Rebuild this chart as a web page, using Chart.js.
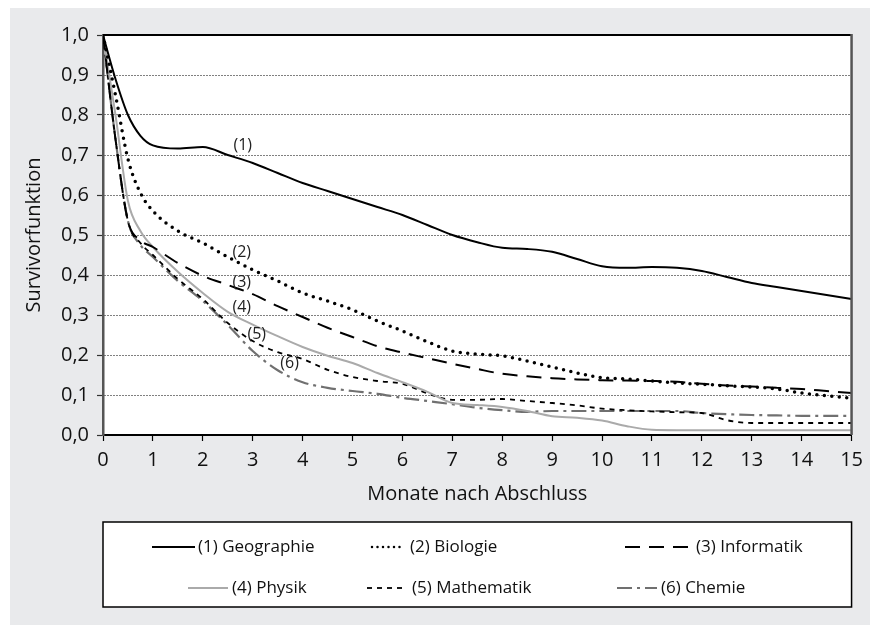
<!DOCTYPE html>
<html>
<head>
<meta charset="utf-8">
<script src="https://cdn.jsdelivr.net/npm/chart.js@4"></script>
<style>
  body { margin: 0; background: #fff; }
  canvas { display: block; }
</style>
</head>
<body>
<canvas id="survivalChart" width="870" height="625"></canvas>
<script>
// months after graduation (x positions shared by all curves)
const months = [0, 0.25, 0.5, 0.75, 1, 1.5, 2, 2.5, 3, 3.5, 4, 4.5, 5, 5.5, 6, 6.5, 7, 7.5,
    8, 8.5, 9, 9.5, 10, 10.5, 11, 11.5, 12, 12.5, 13, 13.5, 14, 14.5, 15];

const geographie = [1.0, 0.89, 0.80, 0.748, 0.724, 0.716, 0.72, 0.70, 0.68, 0.655, 0.63, 0.61, 0.59, 0.57,
    0.55, 0.525, 0.50, 0.482, 0.468, 0.465, 0.458, 0.44, 0.422, 0.418, 0.42, 0.418, 0.41, 0.395, 0.38,
    0.37, 0.36, 0.35, 0.34];
const biologie = [1.0, 0.85, 0.69, 0.605, 0.56, 0.51, 0.48, 0.445, 0.413, 0.385, 0.355, 0.335, 0.313, 0.285,
    0.26, 0.233, 0.21, 0.202, 0.198, 0.185, 0.17, 0.155, 0.143, 0.14, 0.135, 0.13, 0.127, 0.123, 0.12,
    0.115, 0.105, 0.098, 0.092];
const informatik = [1.0, 0.74, 0.535, 0.487, 0.47, 0.43, 0.398, 0.375, 0.352, 0.322, 0.295, 0.268, 0.245,
    0.222, 0.206, 0.192, 0.178, 0.165, 0.153, 0.147, 0.142, 0.139, 0.137, 0.136, 0.135, 0.133, 0.128,
    0.124, 0.121, 0.118, 0.115, 0.11, 0.105];
const physik = [1.0, 0.80, 0.585, 0.51, 0.47, 0.408, 0.355, 0.308, 0.276, 0.247, 0.22, 0.198, 0.18, 0.155,
    0.132, 0.108, 0.08, 0.075, 0.07, 0.06, 0.047, 0.043, 0.036, 0.022, 0.013, 0.012, 0.012, 0.012, 0.012,
    0.012, 0.012, 0.012, 0.012];
const mathematik = [1.0, 0.74, 0.535, 0.48, 0.45, 0.39, 0.34, 0.28, 0.235, 0.207, 0.19, 0.163, 0.145, 0.135,
    0.128, 0.104, 0.088, 0.088, 0.09, 0.085, 0.08, 0.074, 0.066, 0.062, 0.059, 0.057, 0.055, 0.037, 0.03,
    0.03, 0.03, 0.03, 0.03];
const chemie = [1.0, 0.74, 0.535, 0.475, 0.445, 0.385, 0.335, 0.275, 0.21, 0.162, 0.132, 0.118, 0.11, 0.103,
    0.093, 0.085, 0.077, 0.068, 0.062, 0.058, 0.06, 0.06, 0.06, 0.06, 0.06, 0.06, 0.055, 0.052, 0.05,
    0.049, 0.048, 0.048, 0.048];

const seriesNames = ['(1) Geographie', '(2) Biologie', '(3) Informatik', '(4) Physik', '(5) Mathematik', '(6) Chemie'];

// where the "(n)" tags sit next to the curves
const tagMonths = [2.8, 2.78, 2.78, 2.78, 3.08, 3.74];
const tagLevels = [0.725, 0.457, 0.382, 0.32, 0.252, 0.18];

const FONT = '"Open Sans", "DejaVu Sans", sans-serif';

function toPoints(values) {
    return months.map((m, i) => ({ x: m, y: values[i] }));
}

function lineSet(label, values, color, width, dash, cap) {
    return {
        label: label,
        data: toPoints(values),
        borderColor: color,
        borderWidth: width,
        borderDash: dash,
        borderCapStyle: cap || 'butt',
        pointRadius: 0,
        fill: false,
        cubicInterpolationMode: 'monotone'
    };
}

const datasets = [
    lineSet(seriesNames[0], geographie, '#000', 2, []),
    lineSet(seriesNames[1], biologie, '#000', 3.5, [0, 7.5], 'round'),
    lineSet(seriesNames[2], informatik, '#000', 2, [15, 9]),
    lineSet(seriesNames[3], physik, '#aaaaaa', 2, []),
    lineSet(seriesNames[4], mathematik, '#000', 1.8, [5, 5]),
    lineSet(seriesNames[5], chemie, '#707070', 2.2, [15, 5, 3, 5])
];

// legend slots: sample line from x0 to x1, text from tx
const legendSlots = [
    { x0: 152, x1: 195, tx: 198, y: 547 },
    { x0: 372, x1: 405, tx: 410, y: 547 },
    { x0: 625, x1: 692, tx: 696, y: 547 },
    { x0: 188, x1: 228, tx: 232, y: 588 },
    { x0: 367, x1: 407, tx: 412, y: 588 },
    { x0: 617, x1: 657, tx: 661, y: 588 }
];

const framePlugin = {
    id: 'frame',
    beforeDraw(chart) {
        const { ctx, chartArea: a } = chart;
        ctx.save();
        ctx.fillStyle = '#fff';
        ctx.fillRect(0, 0, chart.width, chart.height);
        ctx.fillStyle = '#e9eaec';
        ctx.fillRect(10, 8, chart.width - 10, chart.height - 8);
        ctx.fillStyle = '#fff';
        ctx.fillRect(a.left, a.top, a.right - a.left, a.bottom - a.top);
        ctx.restore();
    },
    afterDatasetsDraw(chart) {
        const { ctx, scales } = chart;
        ctx.save();
        ctx.font = '16px ' + FONT;
        ctx.fillStyle = '#222';
        ctx.textAlign = 'center';
        ctx.textBaseline = 'middle';
        chart.data.datasets.forEach((ds, i) => {
            const tag = ds.label.split(' ')[0];
            ctx.fillText(tag, scales.x.getPixelForValue(tagMonths[i]), scales.y.getPixelForValue(tagLevels[i]));
        });
        ctx.restore();
    },
    afterDraw(chart) {
        const { ctx, chartArea: a } = chart;
        ctx.save();
        // top and right edge of the plot
        ctx.lineWidth = 2;
        ctx.strokeStyle = '#000';
        ctx.beginPath();
        ctx.moveTo(a.left, a.top);
        ctx.lineTo(a.right, a.top);
        ctx.stroke();
        ctx.lineWidth = 2.5;
        ctx.strokeStyle = '#555';
        ctx.beginPath();
        ctx.moveTo(a.right, a.top - 1);
        ctx.lineTo(a.right, a.bottom);
        ctx.stroke();

        // legend box
        ctx.fillStyle = '#fff';
        ctx.fillRect(a.left, 522, a.right - a.left, 85);
        ctx.lineWidth = 1.5;
        ctx.strokeStyle = '#000';
        ctx.strokeRect(a.left, 522, a.right - a.left, 85);

        ctx.font = '17px ' + FONT;
        ctx.textBaseline = 'middle';
        ctx.textAlign = 'left';
        chart.data.datasets.forEach((ds, i) => {
            const slot = legendSlots[i];
            ctx.save();
            ctx.strokeStyle = ds.borderColor;
            ctx.lineWidth = Math.min(ds.borderWidth, 2.5);
            ctx.lineCap = ds.borderCapStyle;
            ctx.setLineDash(ds.borderDash.length && ds.borderDash[0] === 0 ? [0, 5.5] : ds.borderDash);
            ctx.beginPath();
            ctx.moveTo(slot.x0, slot.y);
            ctx.lineTo(slot.x1, slot.y);
            ctx.stroke();
            ctx.restore();
            ctx.fillStyle = '#111';
            ctx.fillText(ds.label, slot.tx, slot.y);
        });
        ctx.restore();
    }
};

new Chart(document.getElementById('survivalChart'), {
    type: 'line',
    data: { datasets: datasets },
    plugins: [framePlugin],
    options: {
        responsive: false,
        animation: false,
        layout: { padding: { left: 0, top: 35, right: 12, bottom: 115 } },
        plugins: { legend: { display: false }, tooltip: { enabled: false } },
        scales: {
            x: {
                type: 'linear',
                min: 0,
                max: 15,
                afterFit: (scale) => { scale.height = 75; },
                ticks: { stepSize: 1, padding: 7, color: '#111', font: { family: FONT, size: 20 } },
                grid: { drawOnChartArea: false, tickLength: 6, tickColor: '#000', tickWidth: 1.2 },
                border: { color: '#000', width: 2 },
                title: {
                    display: true,
                    text: 'Monate nach Abschluss',
                    color: '#111',
                    font: { family: FONT, size: 20 },
                    padding: { top: 0, bottom: 4 }
                }
            },
            y: {
                min: 0,
                max: 1,
                afterFit: (scale) => { scale.width = 103; },
                ticks: {
                    stepSize: 0.1,
                    padding: 8,
                    color: '#111',
                    font: { family: FONT, size: 20 },
                    callback: (v) => v.toFixed(1).replace('.', ',')
                },
                grid: { color: '#000', lineWidth: 1, tickLength: 6, tickColor: '#333', tickWidth: 1.2 },
                border: { color: '#555', width: 2.5, dash: [1, 2] },
                title: {
                    display: true,
                    text: 'Survivorfunktion',
                    color: '#111',
                    font: { family: FONT, size: 20 },
                    padding: { top: 22, bottom: 0 }
                }
            }
        }
    }
});
</script>
</body>
</html>
